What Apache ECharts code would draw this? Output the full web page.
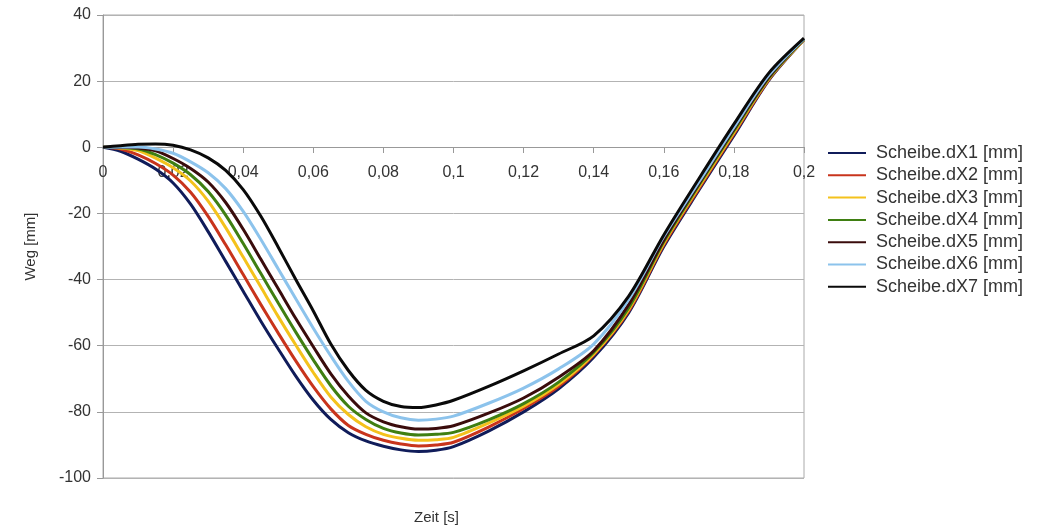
<!DOCTYPE html>
<html>
<head>
<meta charset="utf-8">
<script src="https://cdn.jsdelivr.net/npm/echarts@6/dist/echarts.min.js"></script>
<style>
  html, body { margin: 0; padding: 0; background: #fff; }
  #chart { width: 1046px; height: 526px; }
</style>
</head>
<body>
<div id="chart"></div>
<script>
// Zeit [s] - finer steps in the steep first half
const zeit = [0, 0.005, 0.01, 0.015, 0.02, 0.025, 0.03, 0.035, 0.04, 0.045, 0.05,
              0.055, 0.06, 0.065, 0.07, 0.075, 0.08, 0.085, 0.09, 0.095, 0.1,
              0.11, 0.12, 0.13, 0.14, 0.15, 0.16, 0.17, 0.18, 0.19, 0.2];

// Weg [mm]
const dX1 = [0, -1.2, -3.6, -6.6, -10.8, -17.2, -25.5, -34.5, -43.5, -52.5, -61,
             -69.2, -76.5, -82.3, -86.3, -88.8, -90.4, -91.5, -92, -91.6, -90.5,
             -85.8, -80, -73, -63.5, -50, -30, -13, 3.5, 20.3, 32.5];
const dX2 = [0, -0.5, -2.3, -4.9, -8.4, -13.6, -20.9, -29.5, -38.5, -47.5, -56.2,
             -64.6, -72.4, -79.1, -84.1, -86.8, -88.6, -89.7, -90.3, -90, -89.2,
             -84.6, -79, -72.3, -62.8, -49.5, -29.5, -12.5, 4, 20.5, 32.5];
const dX3 = [0, -0.2, -1, -3.3, -6.2, -10.2, -16.3, -24.3, -33.2, -42.2, -51.2,
             -59.8, -68.1, -75.5, -80.8, -84.5, -86.8, -88, -88.6, -88.4, -87.7,
             -83.4, -78.3, -71.7, -62.5, -49, -29, -12, 4.5, 20.8, 32.5];
const dX4 = [0, -0.1, -0.5, -2.2, -4.8, -8.3, -13.4, -20.5, -29.1, -38.1, -47.1,
             -55.9, -64.3, -72.1, -78.3, -82.3, -85, -86.4, -87, -86.8, -86.2,
             -82.4, -77.5, -71, -62, -48.5, -28.5, -11.5, 5, 21, 32.7];
const dX5 = [0, 0, -0.2, -1.1, -3.4, -6.4, -10.5, -16.7, -24.8, -33.8, -42.8,
             -51.8, -60.3, -68.5, -75.2, -80.3, -83, -84.5, -85.2, -85, -84.2,
             -80.4, -75.8, -69.5, -61.5, -47.5, -28, -11, 5.5, 21.3, 32.8];
const dX6 = [0, 0.1, 0.1, -0.5, -1.8, -4.4, -7.7, -12.5, -19.4, -27.8, -36.8,
             -45.8, -54.7, -63.1, -70.8, -76.8, -80, -81.8, -82.5, -82.2, -81.3,
             -77.4, -72.8, -67, -59.5, -46, -27, -10.5, 6, 21.8, 32.8];
const dX7 = [0, 0.5, 0.9, 1, 0.6, -0.8, -3.2, -7, -12.8, -20.8, -30.2,
             -40, -49.5, -59.5, -67.5, -73.5, -76.8, -78.4, -78.7, -77.9, -76.5,
             -72.3, -67.6, -62.5, -57, -45, -26.5, -9.5, 7, 22.5, 33];

const names = ['Scheibe.dX1 [mm]', 'Scheibe.dX2 [mm]', 'Scheibe.dX3 [mm]', 'Scheibe.dX4 [mm]',
               'Scheibe.dX5 [mm]', 'Scheibe.dX6 [mm]', 'Scheibe.dX7 [mm]'];
const colors = ['#101c5a', '#c8341c', '#f4c21c', '#3f7f12', '#3a0c0c', '#8cc3ec', '#0a0a0a'];
const values = [dX1, dX2, dX3, dX4, dX5, dX6, dX7];

const fontFamily = '"Liberation Sans", Arial, sans-serif';

const chart = echarts.init(document.getElementById('chart'));

const series = values.map((v, i) => ({
    name: names[i],
    type: 'line',
    smooth: 0.3,
    symbol: 'none',
    animation: false,
    lineStyle: { color: colors[i], width: 3 },
    itemStyle: { color: colors[i] },
    data: zeit.map((t, k) => [t, v[k]])
}));

chart.setOption({
    backgroundColor: '#fff',
    color: colors,
    textStyle: { fontFamily: fontFamily },
    grid: {
        left: 103,
        right: 242,
        top: 15,
        bottom: 48,
        containLabel: false,
        outerBoundsMode: 'none',
        show: true,
        borderColor: '#aaa',
        borderWidth: 1
    },
    legend: {
        orient: 'vertical',
        left: 828,
        top: 144,
        padding: 0,
        icon: 'rect',
        itemWidth: 38,
        itemHeight: 2,
        itemGap: 4.3,
        data: names,
        textStyle: {
            fontSize: 18,
            lineHeight: 18,
            color: '#333',
            fontFamily: fontFamily,
            padding: [0, 0, 0, 5]
        }
    },
    xAxis: {
        type: 'value',
        min: 0,
        max: 0.2,
        interval: 0.02,
        // the axis sits on y = 0, i.e. 331 px above the bottom of the grid
        offset: -331,
        name: 'Zeit [s]',
        nameLocation: 'middle',
        nameGap: 363,
        nameTextStyle: { fontSize: 15, color: '#333', fontFamily: fontFamily, padding: [0, 34, 0, 0] },
        axisLine: { onZero: false, lineStyle: { color: '#999', width: 1 } },
        axisTick: { show: true, length: 6, lineStyle: { color: '#999' } },
        splitLine: { show: false },
        axisLabel: {
            fontSize: 16,
            color: '#333',
            margin: 18,
            showMinLabel: true,
            showMaxLabel: true,
            formatter: v => String(+v.toFixed(2)).replace('.', ',')
        }
    },
    yAxis: {
        type: 'value',
        min: -100,
        max: 40,
        interval: 20,
        name: 'Weg [mm]',
        nameLocation: 'middle',
        nameGap: 65,
        nameTextStyle: { fontSize: 15, color: '#333', fontFamily: fontFamily },
        axisLine: { show: true, lineStyle: { color: '#999', width: 1 } },
        axisTick: { show: true, length: 6, lineStyle: { color: '#999' } },
        splitLine: { show: true, lineStyle: { color: '#b3b3b3', width: 1 } },
        axisLabel: { fontSize: 16, color: '#333', margin: 12 }
    },
    series: series
});
</script>
</body>
</html>
